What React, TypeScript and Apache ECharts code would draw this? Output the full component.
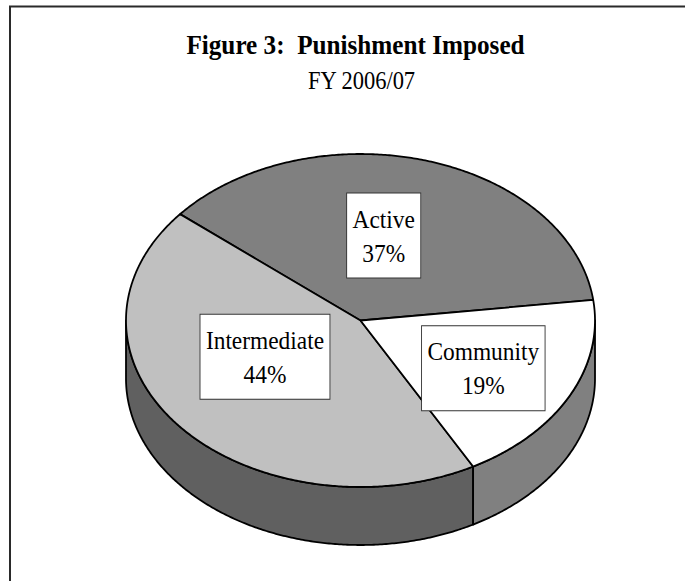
import React, { useEffect, useRef } from "react";
import * as echarts from "echarts";

const CATEGORIES = ["Active", "Intermediate", "Community"];
const VALUES = [37, 44, 19];
const TOP_COLORS = ["#808080", "#c0c0c0", "#ffffff"];
const SIDE_COLORS = ["#404040", "#606060", "#808080"];
const START_ANGLE = 7.1; // degrees, counter-clockwise from 3 o'clock
const TITLE = "Figure 3:  Punishment Imposed";
const SUBTITLE = "FY 2006/07";

const W = 685;
const H = 581;
const CX = 360.5;
const CY = 320.5;
const RX = 234.5;
const RY = 166.5;
const DEPTH = 58;
const LABEL_R = 0.55;
// manual nudges of the data-label boxes (as dragged in the original)
const LABEL_NUDGE = [
  [-13, 3],
  [4, -22],
  [8, 6],
];
const FONT = "'Liberation Serif', 'Times New Roman', serif";

const TOTAL = VALUES.reduce((a, b) => a + b, 0);
const STARTS: number[] = [];
const ENDS: number[] = [];
{
  let acc = START_ANGLE;
  VALUES.forEach((v) => {
    STARTS.push(acc);
    acc += (v / TOTAL) * 360;
    ENDS.push(acc);
  });
}

const rad = (d: number) => (d * Math.PI) / 180;
const pt = (deg: number, dy = 0): number[] => [
  CX + RX * Math.cos(rad(deg)),
  CY - RY * Math.sin(rad(deg)) + dy,
];

function arcPoints(a: number, b: number, dy = 0): number[][] {
  const pts: number[][] = [];
  const n = Math.max(2, Math.ceil(Math.abs(b - a) / 0.5));
  for (let i = 0; i <= n; i++) pts.push(pt(a + ((b - a) * i) / n, dy));
  return pts;
}

function visibleSide(s: number, e: number): number[][] {
  const res: number[][] = [];
  for (const k of [-360, 0, 360]) {
    const lo = Math.max(s, 180 + k);
    const hi = Math.min(e, 360 + k);
    if (hi > lo + 0.01) res.push([lo, hi]);
  }
  return res;
}

export default function App() {
  const ref = useRef<HTMLDivElement>(null);
  useEffect(() => {
    if (!ref.current) return;
    const chart = echarts.init(ref.current, null, { renderer: "svg" });
    const data = VALUES.map((v, i) => ({ value: v, name: CATEGORIES[i] }));

    chart.setOption({
      animation: false,
      backgroundColor: "#ffffff",
      graphic: [
        {
          type: "rect",
          shape: { x: 10, y: 6.5, width: 720, height: 620 },
          style: { fill: "none", stroke: "#2a2a2a", lineWidth: 2 },
          z: 0,
        },
        {
          type: "text",
          x: 355.5,
          y: 44.2,
          scaleX: 0.9,
          style: {
            text: TITLE,
            fontSize: 28,
            fontWeight: "bold",
            fontFamily: FONT,
            fill: "#000",
            align: "center",
            verticalAlign: "middle",
          },
        },
        {
          type: "text",
          x: 361.5,
          y: 80.5,
          scaleX: 0.9,
          style: {
            text: SUBTITLE,
            fontSize: 25,
            fontFamily: FONT,
            fill: "#000",
            align: "center",
            verticalAlign: "middle",
          },
        },
      ],
      series: [
        {
          type: "custom",
          name: "sides",
          coordinateSystem: "none",
          z: 1,
          data,
          renderItem: (params: any) => {
            const i = params.dataIndex;
            const parts = visibleSide(STARTS[i], ENDS[i]);
            return {
              type: "group",
              children: parts.map(([a, b]) => ({
                type: "polygon",
                shape: {
                  points: [...arcPoints(a, b), ...arcPoints(a, b, DEPTH).reverse()],
                },
                style: {
                  fill: SIDE_COLORS[i],
                  stroke: "#000",
                  lineWidth: 1.8,
                  lineJoin: "round",
                },
              })),
            };
          },
        },
        {
          type: "custom",
          name: "tops",
          coordinateSystem: "none",
          z: 2,
          data,
          renderItem: (params: any) => {
            const i = params.dataIndex;
            return {
              type: "polygon",
              shape: { points: [[CX, CY], ...arcPoints(STARTS[i], ENDS[i])] },
              style: {
                fill: TOP_COLORS[i],
                stroke: "#000",
                lineWidth: 1.8,
                lineJoin: "round",
              },
            };
          },
        },
        {
          type: "custom",
          name: "labels",
          coordinateSystem: "none",
          z: 3,
          data,
          renderItem: (params: any, api: any) => {
            const i = params.dataIndex;
            const mid = (STARTS[i] + ENDS[i]) / 2;
            const x = CX + RX * LABEL_R * Math.cos(rad(mid)) + LABEL_NUDGE[i][0];
            const y = CY - RY * LABEL_R * Math.sin(rad(mid)) + LABEL_NUDGE[i][1];
            const pct = Math.round((api.value(0) / TOTAL) * 100);
            return {
              type: "text",
              x,
              y,
              scaleX: 0.9,
              style: {
                text: CATEGORIES[i] + "\n" + pct + "%",
                fontSize: 26,
                fontFamily: FONT,
                fill: "#000",
                align: "center",
                verticalAlign: "middle",
                lineHeight: 34,
                backgroundColor: "#ffffff",
                borderColor: "#333333",
                borderWidth: 1,
                padding: [8, 6, 8, 6],
              },
            };
          },
        },
      ],
    });
    return () => chart.dispose();
  }, []);
  return (
    <div
      ref={ref}
      style={{ position: "absolute", left: 0, top: 0, width: W, height: H }}
    />
  );
}
